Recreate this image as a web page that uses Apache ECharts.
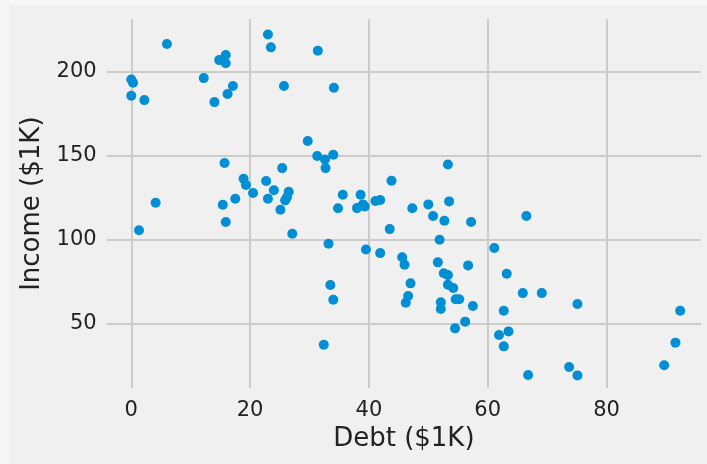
<!DOCTYPE html>
<html>
<head>
<meta charset="utf-8">
<script src="https://cdn.jsdelivr.net/npm/echarts@6/dist/echarts.min.js"></script>
<style>
html,body{margin:0;padding:0;background:#f7f7f7;}
#chart{position:absolute;left:9px;top:5px;width:698px;height:459px;}
</style>
</head>
<body>
<div id="chart"></div>
<script>
// Debt ($1K)
const debt = [6.0,23.0,23.5,15.9,14.8,15.9,12.2,0.0,0.3,17.1,16.2,25.7,0.0,2.2,14.0,31.4,34.1,29.7,15.7,18.9,19.3,22.7,25.4,4.1,15.4,17.5,20.5,23.0,24.0,26.5,26.2,25.9,25.1,15.9,1.3,27.1,31.3,32.6,34.0,32.7,53.3,43.8,35.6,38.6,34.8,38.0,39.3,39.0,41.1,41.9,47.3,50.0,53.5,50.8,52.7,57.2,43.5,51.9,33.2,39.5,41.9,45.6,46.0,51.6,56.7,66.5,61.1,52.6,53.3,47.0,53.3,54.2,33.5,34.0,46.6,46.2,52.1,52.1,54.6,55.2,57.5,56.2,54.5,32.4,63.2,65.9,69.1,75.1,62.7,92.4,61.9,63.5,62.7,91.6,89.7,73.7,75.1,66.8];
// Income ($1K)
const income = [216.3,222.0,214.3,209.7,206.7,204.8,196.0,195.2,193.2,191.3,186.5,191.3,185.5,182.9,181.7,212.3,190.2,158.5,145.4,136.1,132.3,134.7,142.4,121.8,120.6,124.2,127.6,124.2,129.2,128.3,125.0,123.2,117.6,110.3,105.4,103.3,149.6,147.6,150.4,142.4,144.6,134.9,126.6,126.6,118.5,118.6,119.6,120.8,122.8,123.4,118.5,120.8,122.6,113.9,111.1,110.3,106.1,99.8,97.4,94.0,91.8,89.3,84.9,86.3,84.5,113.9,94.8,79.8,78.7,73.8,73.0,71.0,72.8,64.0,66.3,62.3,62.5,58.5,64.3,64.3,60.3,51.0,47.0,37.3,79.5,68.0,68.0,61.5,57.5,57.5,43.0,45.2,36.3,38.5,25.0,24.0,19.0,19.2];
const xTicks = [0,20,40,60,80];
const yTicks = [50,100,150,200];

const points = debt.map((d,i)=>[d, income[i]]);
const chart = echarts.init(document.getElementById('chart'));
const font = "'DejaVu Sans', sans-serif";
chart.setOption({
  backgroundColor:'#f0f0f0',
  animation:false,
  grid:{left:97.7, top:14.3, width:594.3, height:368.7, containLabel:false},
  xAxis:{
    type:'value', min:-4.14, max:95.9,
    name:'Debt ($1K)', nameLocation:'middle', nameGap:36,
    nameTextStyle:{fontFamily:font, fontSize:26, color:'#222'},
    axisLine:{show:false},
    axisTick:{show:false, customValues:xTicks},
    axisLabel:{customValues:xTicks, fontFamily:font, fontSize:21, color:'#222', margin:12},
    splitLine:{show:true, lineStyle:{color:'#cbcbcb', width:2}}
  },
  yAxis:{
    type:'value', min:11.5, max:231.0,
    name:'Income ($1K)', nameLocation:'middle', nameGap:61, nameRotate:90,
    nameTextStyle:{fontFamily:font, fontSize:26, color:'#222'},
    axisLine:{show:false},
    axisTick:{show:false, customValues:yTicks},
    axisLabel:{customValues:yTicks, fontFamily:font, fontSize:21, color:'#222', margin:10},
    splitLine:{show:true, lineStyle:{color:'#cbcbcb', width:2}}
  },
  series:[{
    type:'scatter',
    data:points,
    symbol:'circle',
    symbolSize:10,
    itemStyle:{color:'#008fd5', opacity:1}
  }]
});
</script>
</body>
</html>
